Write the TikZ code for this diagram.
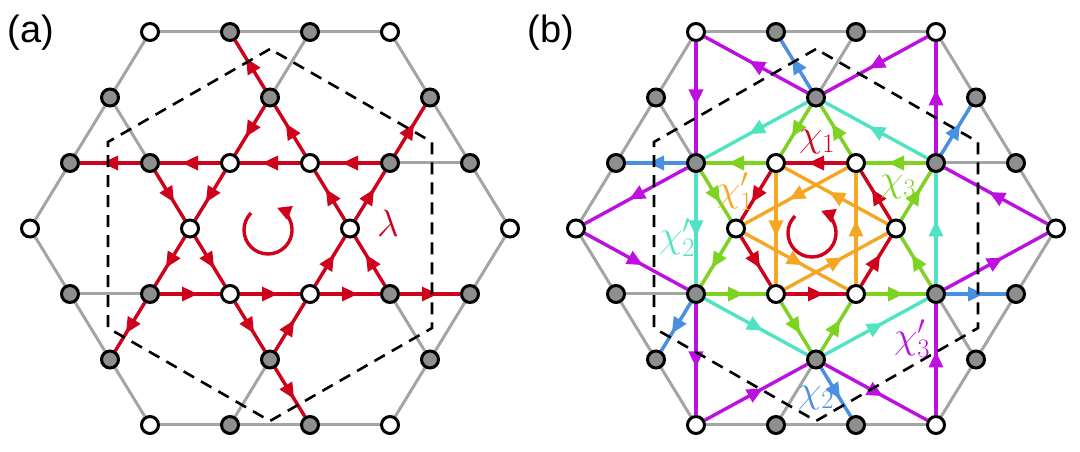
\RequirePackage{fix-cm}
\documentclass[tikz,border=0pt]{standalone}
\usepackage{fontspec}
\setsansfont{Liberation Sans}
\usepackage{tikz}
\usetikzlibrary{arrows.meta, decorations.markings, calc}

\definecolor{latgray}{HTML}{A4A4A4}
\definecolor{sitegray}{HTML}{8E8E8E}
\definecolor{chired}{HTML}{D0021B}
\definecolor{chiblue}{HTML}{4A90E2}
\definecolor{chigreen}{HTML}{7ED321}
\definecolor{chicyan}{HTML}{50E3C2}
\definecolor{chiorange}{HTML}{F5A623}
\definecolor{chimag}{HTML}{BD10E0}

\pgfdeclarelayer{bg}
\pgfsetlayers{bg,main}

\tikzstyle{site} = [circle, draw=black, line width=3pt, minimum size=17pt, inner sep=0pt]
\tikzstyle{graysite} = [site, fill=sitegray]
\tikzstyle{whitesite} = [site, fill=white]
\tikzstyle{bond} = [draw=latgray, line width=3pt]
\tikzstyle{hop} = [line width=3.4pt, postaction={decorate}, decoration={markings, mark=at position 0.5 with {\pgftransformxshift{8pt}\arrow{Triangle[length=16pt, width=14pt]}}}]
\tikzstyle{spin} = [chired, line width=3.4pt, -{Triangle[length=14pt, width=14pt]}]
\tikzstyle{cell} = [draw=black, line width=2.6pt, dash pattern=on 12pt off 8pt]
\tikzstyle{tag} = [font=\sffamily\fontsize{38}{44}\selectfont, inner sep=0pt]
\tikzstyle{lbl} = [font=\fontsize{38}{44}\selectfont, inner sep=0pt]

\begin{document}
\begin{tikzpicture}[x=1pt, y=1pt]
    \useasboundingbox (0,0) rectangle (1080,452);
    % kagome sites, named (panel-column-row), row 0 on top
    \foreach \p/\ox in {a/270, b/816} {
        \foreach \x/\y in {5/0,7/0,2/1,6/1,10/1,1/2,3/2,9/2,11/2,1/4,3/4,9/4,11/4,2/5,6/5,10/5,5/6,7/6}
            \node[graysite] (\p-\x-\y) at ({\ox+40*(\x-6)}, {223.5+65.5*(3-\y)}) {};
        \foreach \x/\y in {3/0,9/0,5/2,7/2,0/3,4/3,8/3,12/3,5/4,7/4,3/6,9/6}
            \node[whitesite] (\p-\x-\y) at ({\ox+40*(\x-6)}, {223.5+65.5*(3-\y)}) {};
        \coordinate (\p-mid) at (\ox, 223.5);
    }
    \coordinate (a-rot) at (268, 222);
    \coordinate (b-rot) at (812, 219);

    \node[tag] (tag-a) at (31, 419) {(a)};
    \node[tag] (tag-b) at (551, 419) {(b)};

    \begin{pgfonlayer}{bg}
        \foreach \p in {a, b} {
            \foreach \s/\e in {3-0/9-0, 1-2/11-2, 1-4/11-4, 3-6/9-6, 0-3/3-0, 2-5/7-0, 5-6/10-1, 9-6/12-3, 0-3/3-6, 2-1/7-6, 5-0/10-5, 9-0/12-3}
                \draw[bond] (\p-\s) -- (\p-\e);
            \draw[spin] ($(\p-rot)+(135:24)$) arc[start angle=135, end angle=428, radius=24];
        }
        % (a) lambda
        \foreach \s/\e in {9-2/7-2, 7-2/5-2, 5-2/3-2, 3-2/1-2, 3-4/5-4, 5-4/7-4, 7-4/9-4, 9-4/11-4,
                           6-1/5-2, 5-2/4-3, 4-3/3-4, 3-4/2-5, 9-4/8-3, 8-3/7-2, 7-2/6-1, 6-1/5-0,
                           6-5/7-4, 7-4/8-3, 8-3/9-2, 9-2/10-1, 3-2/4-3, 4-3/5-4, 5-4/6-5, 6-5/7-6}
            \draw[chired, hop] (a-\s) -- (a-\e);
        % (b) chi_1 ... chi_3'
        \foreach \s/\e in {7-2/5-2, 5-4/7-4, 5-2/4-3, 8-3/7-2, 7-4/8-3, 4-3/5-4}
            \draw[chired, hop] (b-\s) -- (b-\e);
        \foreach \s/\e in {9-2/7-2, 5-2/3-2, 3-4/5-4, 7-4/9-4, 6-1/5-2, 4-3/3-4,
                           9-4/8-3, 7-2/6-1, 6-5/7-4, 8-3/9-2, 3-2/4-3, 5-4/6-5}
            \draw[chigreen, hop] (b-\s) -- (b-\e);
        \foreach \s/\e in {3-2/1-2, 9-4/11-4, 3-4/2-5, 6-1/5-0, 9-2/10-1, 6-5/7-6}
            \draw[chiblue, hop] (b-\s) -- (b-\e);
        \foreach \s/\e in {5-2/5-4, 5-4/8-3, 8-3/5-2, 7-2/4-3, 4-3/7-4, 7-4/7-2}
            \draw[chiorange, hop] (b-\s) -- (b-\e);
        \foreach \s/\e in {6-1/3-2, 3-2/3-4, 3-4/6-5, 6-5/9-4, 9-4/9-2, 9-2/6-1}
            \draw[chicyan, hop] (b-\s) -- (b-\e);
        \foreach \s/\e in {9-0/6-1, 6-1/3-0, 3-0/3-2, 3-2/0-3, 0-3/3-4, 3-4/3-6,
                           3-6/6-5, 6-5/9-6, 9-6/9-4, 9-4/12-3, 12-3/9-2, 9-2/9-0}
            \draw[chimag, hop] (b-\s) -- (b-\e);
        % magnetic unit cell
        \foreach \p in {a, b}
            \draw[cell] ($(\p-mid)+(0,179.5)$) -- ++(-162,-93) -- ++(0,-186) -- ++(162,-93)
                -- ++(162,93) -- ++(0,186) -- cycle;
    \end{pgfonlayer}

    \node[lbl, text=chired] (lam) at (388, 229) {$\lambda$};
    \node[lbl, text=chired] (chi1) at (817, 310) {$\chi_1$};
    \node[lbl, text=chiorange] (chi1p) at (735, 260) {$\chi'_1$};
    \node[lbl, text=chigreen] (chi3) at (898, 265) {$\chi_3$};
    \node[lbl, text=chicyan] (chi2p) at (677, 214) {$\chi'_2$};
    \node[lbl, text=chimag] (chi3p) at (912, 113) {$\chi'_3$};
    \node[lbl, text=chiblue] (chi2) at (816, 54) {$\chi_2$};
\end{tikzpicture}
\end{document}
